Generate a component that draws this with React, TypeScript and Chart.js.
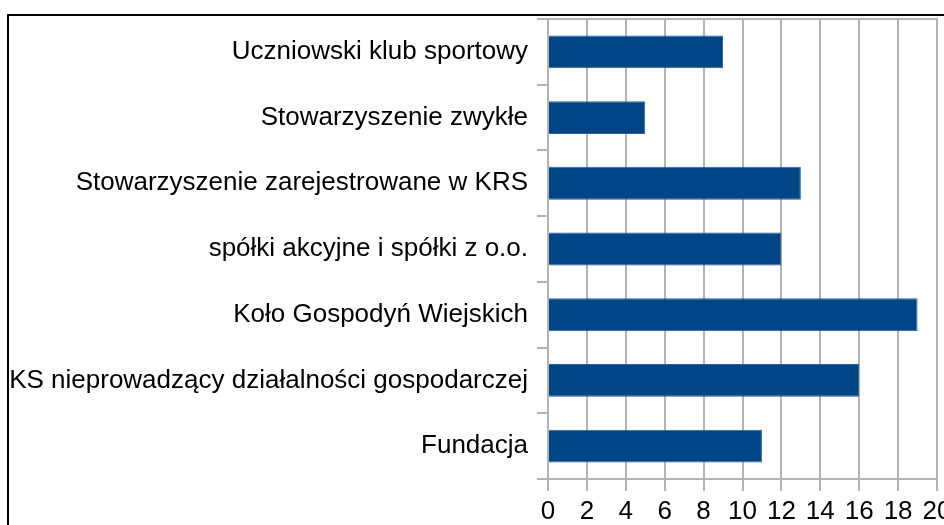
import React, { useEffect, useRef } from "react";
import { Chart, registerables } from "chart.js";

Chart.register(...registerables);

const categories = [
  "Uczniowski klub sportowy",
  "Stowarzyszenie zwykłe",
  "Stowarzyszenie zarejestrowane w KRS",
  "spółki akcyjne i spółki z o.o.",
  "Koło Gospodyń Wiejskich",
  "KS nieprowadzący działalności gospodarczej",
  "Fundacja",
];
const values = [9, 5, 13, 12, 19, 16, 11];
const xMin = 0;
const xMax = 20;
const xStep = 2;

const GRID = "#b3b3b3";
const BAR = "#004586";
const FONT = "'Liberation Sans', Arial, sans-serif";

const topLine = {
  id: "topLine",
  afterDraw(chart: any) {
    const { ctx, chartArea } = chart;
    ctx.save();
    ctx.strokeStyle = GRID;
    ctx.lineWidth = 2;
    ctx.beginPath();
    ctx.moveTo(chartArea.left, chartArea.top);
    ctx.lineTo(chartArea.right + 1, chartArea.top);
    ctx.stroke();
    ctx.restore();
  },
};

export default function App() {
  const ref = useRef<HTMLCanvasElement>(null);
  useEffect(() => {
    if (!ref.current) return;
    const chart = new Chart(ref.current, {
      type: "bar",
      data: {
        labels: categories,
        datasets: [
          {
            data: values,
            backgroundColor: BAR,
            borderColor: "#2c5f95",
            borderWidth: 1,
            categoryPercentage: 1,
            barPercentage: 0.5,
          },
        ],
      },
      options: {
        indexAxis: "y",
        animation: false,
        responsive: false,
        maintainAspectRatio: false,
        layout: { padding: { top: 19, right: 63, bottom: 0, left: 0 } },
        plugins: { legend: { display: false }, tooltip: { enabled: false } },
        scales: {
          x: {
            min: xMin,
            max: xMax,
            ticks: {
              stepSize: xStep,
              color: "#000",
              font: { family: FONT, size: 26 },
              padding: 5,
              maxRotation: 0,
            },
            grid: { color: GRID, lineWidth: 2, tickLength: 12 },
            border: { display: true, color: GRID, width: 2 },
            afterFit(scale: any) {
              scale.height = 81;
            },
          },
          y: {
            ticks: {
              color: "#000",
              font: { family: FONT, size: 26 },
              padding: 9,
            },
            grid: {
              color: GRID,
              lineWidth: 2,
              tickLength: 11,
              drawOnChartArea: false,
              offset: true,
            },
            border: { display: false },
            afterFit(scale: any) {
              scale.width = 548;
              scale.paddingTop = 0;
              scale.paddingBottom = 0;
            },
          },
        },
      },
      plugins: [topLine],
    });
    return () => chart.destroy();
  }, []);
  return (
    <div
      style={{
        position: "fixed",
        left: 0,
        top: 0,
        width: 944,
        height: 525,
        overflow: "hidden",
        background: "#fff",
      }}
    >
      <canvas ref={ref} width={1000} height={560} style={{ position: "absolute", left: 0, top: 0 }} />
      <div
        style={{
          position: "absolute",
          left: 7,
          top: 14,
          width: 1000,
          height: 600,
          borderLeft: "2px solid #000",
          borderTop: "2px solid #000",
          pointerEvents: "none",
        }}
      />
    </div>
  );
}
